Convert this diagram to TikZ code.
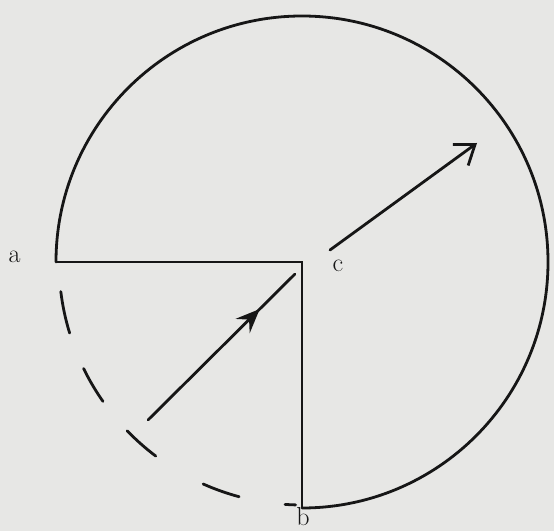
\documentclass[tikz,border=0pt]{standalone}
\usetikzlibrary{arrows.meta,decorations.markings}
\definecolor{paper}{RGB}{231,231,229}
\definecolor{ink}{RGB}{22,22,22}
\begin{document}
\begin{tikzpicture}[x=1pt,y=1pt,
  lbl/.style={font=\fontsize{26}{26}\selectfont, text=ink, inner sep=0pt},
  ln/.style={draw=ink, line width=2.8pt, line cap=round},
  midarrow/.style={postaction={decorate}, decoration={markings,
     mark=at position #1 with {\arrow{Stealth[length=24pt,width=20pt,inset=9pt]}}}}]
\fill[paper] (0,0) rectangle (554,531);
\useasboundingbox (0,0) rectangle (554,531);
% key points
\coordinate (C) at (302,269);
\coordinate (A) at (56,269);
\coordinate (B) at (302,23);
% solid arc from a over the top to b
\draw[ln] (A) arc[start angle=180,end angle=-90,radius=246];
% right-angle lines
\draw[ln, line cap=butt] (A) -- (C) -- (B);
% dashed lower-left quarter
\foreach \s/\e in {187/197,206/215,224/233,246/255,266/268.5}
  \draw[ln] (C) ++(\s:243) arc[start angle=\s,end angle=\e,radius=243];
% arrow towards the corner
\coordinate (P1) at (148,111);
\coordinate (P2) at (295,257);
\draw[ln, midarrow=0.76] (P1) -- (P2);
% arrow out to the upper right
\coordinate (Q1) at (330,281);
\coordinate (Q2) at (477,388);
\draw[ln, -{Straight Barb[length=18pt,width=26pt]}] (Q1) -- (Q2);
% labels
\node[lbl] (la) at (14.5,274) {a};
\node[lbl] (lc) at (338,265) {c};
\node[lbl] (lb) at (303,14) {b};
\end{tikzpicture}
\end{document}
